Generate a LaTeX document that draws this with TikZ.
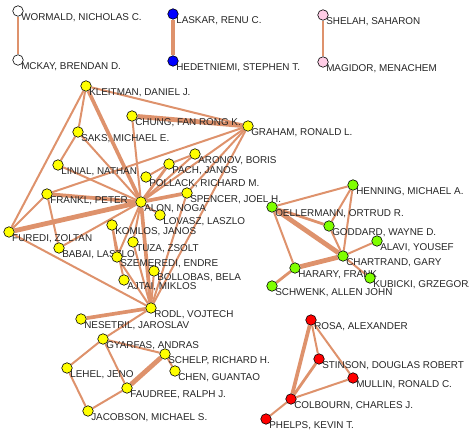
\documentclass[tikz,border=0pt]{standalone}
\usepackage{fontspec}
\setmainfont{Liberation Sans}
\usetikzlibrary{backgrounds}
\definecolor{linkSalmon}{RGB}{222,146,108}
\definecolor{nodeYellow}{RGB}{255,255,0}
\definecolor{nodeGreen}{RGB}{127,255,0}
\definecolor{nodeRed}{RGB}{255,0,0}
\definecolor{nodeBlue}{RGB}{0,0,255}
\definecolor{nodePink}{RGB}{255,205,230}
\tikzset{
    person/.style={circle, draw=black, line width=0.6pt, minimum size=10.5pt, inner sep=0pt},
    lab/.style={inner sep=0pt, xshift=-2.5pt, yshift=-7pt, font=\fontsize{9.9}{10}\selectfont, text=black!85},
    link/.style={draw=linkSalmon, line width=2pt},
    mid link/.style={draw=linkSalmon, line width=2.8pt},
    heavy link/.style={draw=linkSalmon, line width=3.7pt},
    heavier link/.style={draw=linkSalmon, line width=4.8pt}
}
% one author: name, x, y, colour, label
\newcommand{\pers}[5]{\node[person, fill=#4, label={[lab]right:{#5}}] (#1) at (#2,#3) {};}

\begin{document}
\begin{tikzpicture}[x=1pt, y=-1pt]
    \useasboundingbox (0,0) rectangle (469,430);

    % the three pairs on top
    \pers{wormald}{18}{11}{white}{WORMALD, NICHOLAS C.}
    \pers{mckay}{18}{60}{white}{MCKAY, BRENDAN D.}
    \pers{laskar}{173}{14}{nodeBlue}{LASKAR, RENU C.}
    \pers{hedetniemi}{173}{61}{nodeBlue}{HEDETNIEMI, STEPHEN T.}
    \pers{shelah}{323}{15}{nodePink}{SHELAH, SAHARON}
    \pers{magidor}{323}{62}{nodePink}{MAGIDOR, MENACHEM}

    % the big yellow group
    \pers{kleitman}{86}{86}{nodeYellow}{KLEITMAN, DANIEL J.}
    \pers{chung}{132}{116}{nodeYellow}{CHUNG, FAN RONG K.}
    \pers{saks}{78}{132}{nodeYellow}{SAKS, MICHAEL E.}
    \pers{graham}{248}{126}{nodeYellow}{GRAHAM, RONALD L.}
    \pers{linial}{58}{165}{nodeYellow}{LINIAL, NATHAN}
    \pers{aronov}{195}{154}{nodeYellow}{ARONOV, BORIS}
    \pers{pach}{169}{164}{nodeYellow}{PACH, JANOS}
    \pers{pollack}{146}{177}{nodeYellow}{POLLACK, RICHARD M.}
    \pers{spencer}{187}{193}{nodeYellow}{SPENCER, JOEL H.}
    \pers{frankl}{47}{194}{nodeYellow}{FRANKL, PETER}
    \pers{alon}{141}{202}{nodeYellow}{ALON, NOGA}
    \pers{lovasz}{160}{215}{nodeYellow}{LOVASZ, LASZLO}
    \pers{furedi}{9}{232}{nodeYellow}{FUREDI, ZOLTAN}
    \pers{komlos}{112}{225}{nodeYellow}{KOMLOS, JANOS}
    \pers{tuza}{133}{242}{nodeYellow}{TUZA, ZSOLT}
    \pers{babai}{59}{248}{nodeYellow}{BABAI, LASZLO}
    \pers{szemeredi}{117}{257}{nodeYellow}{SZEMEREDI, ENDRE}
    \pers{bollobas}{154}{271}{nodeYellow}{BOLLOBAS, BELA}
    \pers{ajtai}{124}{280}{nodeYellow}{AJTAI, MIKLOS}
    \pers{rodl}{151}{308}{nodeYellow}{RODL, VOJTECH}
    \pers{nesetril}{81}{319}{nodeYellow}{NESETRIL, JAROSLAV}
    \pers{gyarfas}{103}{339}{nodeYellow}{GYARFAS, ANDRAS}
    \pers{schelp}{165}{354}{nodeYellow}{SCHELP, RICHARD H.}
    \pers{chen}{175}{371}{nodeYellow}{CHEN, GUANTAO}
    \pers{lehel}{67}{368}{nodeYellow}{LEHEL, JENO}
    \pers{faudree}{127}{388}{nodeYellow}{FAUDREE, RALPH J.}
    \pers{jacobson}{88}{411}{nodeYellow}{JACOBSON, MICHAEL S.}

    % green group
    \pers{henning}{353}{185}{nodeGreen}{HENNING, MICHAEL A.}
    \pers{oellermann}{272}{207}{nodeGreen}{OELLERMANN, ORTRUD R.}
    \pers{goddard}{329}{226}{nodeGreen}{GODDARD, WAYNE D.}
    \pers{alavi}{377}{241}{nodeGreen}{ALAVI, YOUSEF}
    \pers{chartrand}{343}{256}{nodeGreen}{CHARTRAND, GARY}
    \pers{harary}{295}{268}{nodeGreen}{HARARY, FRANK}
    \pers{kubicki}{370}{278}{nodeGreen}{KUBICKI, GRZEGORZ}
    \pers{schwenk}{272}{286}{nodeGreen}{SCHWENK, ALLEN JOHN}

    % red group
    \pers{rosa}{311}{320}{nodeRed}{ROSA, ALEXANDER}
    \pers{stinson}{319}{359}{nodeRed}{STINSON, DOUGLAS ROBERT}
    \pers{mullin}{353}{378}{nodeRed}{MULLIN, RONALD C.}
    \pers{colbourn}{291}{399}{nodeRed}{COLBOURN, CHARLES J.}
    \pers{phelps}{266}{419}{nodeRed}{PHELPS, KEVIN T.}

    % the links, behind the nodes
    \begin{scope}[on background layer]
        \draw[link] (wormald) -- (mckay);
        \draw[heavy link] (laskar) -- (hedetniemi);
        \draw[mid link] (shelah) -- (magidor);

        \draw[link] (kleitman) -- (graham);
        \draw[link] (kleitman) -- (saks);
        \draw[heavy link] (kleitman) -- (alon);
        \draw[link] (kleitman) -- (furedi);
        \draw[heavier link] (chung) -- (graham);
        \draw[link] (chung) -- (alon);
        \draw[link] (saks) -- (linial);
        \draw[link] (saks) -- (alon);
        \draw[link] (linial) -- (alon);
        \draw[link] (graham) -- (frankl);
        \draw[link] (graham) -- (alon);
        \draw[link] (graham) -- (spencer);
        \draw[link] (graham) -- (rodl);
        \draw[link] (aronov) -- (pach);
        \draw[link] (pach) -- (pollack);
        \draw[link] (alon) -- (aronov);
        \draw[mid link] (alon) -- (pach);
        \draw[heavy link] (alon) -- (spencer);
        \draw[link] (alon) -- (lovasz);
        \draw[heavy link] (alon) -- (frankl);
        \draw[heavier link] (alon) -- (furedi);
        \draw[link] (alon) -- (babai);
        \draw[link] (alon) -- (szemeredi);
        \draw[heavy link] (alon) -- (rodl);
        \draw[link] (alon) -- (tuza);
        \draw[link] (frankl) -- (furedi);
        \draw[link] (frankl) -- (babai);
        \draw[link] (furedi) -- (rodl);
        \draw[link] (komlos) -- (szemeredi);
        \draw[link] (komlos) -- (ajtai);
        \draw[link] (szemeredi) -- (rodl);
        \draw[link] (tuza) -- (rodl);
        \draw[link] (bollobas) -- (rodl);
        \draw[link] (spencer) -- (rodl);
        \draw[heavy link] (rodl) -- (nesetril);
        \draw[link] (rodl) -- (gyarfas);

        \draw[link] (gyarfas) -- (schelp);
        \draw[link] (gyarfas) -- (lehel);
        \draw[link] (gyarfas) -- (faudree);
        \draw[heavier link] (schelp) -- (faudree);
        \draw[link] (schelp) -- (chen);
        \draw[link] (lehel) -- (jacobson);
        \draw[link] (faudree) -- (jacobson);

        \draw[link] (oellermann) -- (henning);
        \draw[mid link] (oellermann) -- (goddard);
        \draw[heavier link] (oellermann) -- (chartrand);
        \draw[link] (oellermann) -- (harary);
        \draw[link] (henning) -- (goddard);
        \draw[link] (henning) -- (chartrand);
        \draw[link] (goddard) -- (chartrand);
        \draw[link] (chartrand) -- (alavi);
        \draw[heavier link] (chartrand) -- (harary);
        \draw[link] (chartrand) -- (kubicki);
        \draw[mid link] (harary) -- (schwenk);

        \draw[heavy link] (rosa) -- (colbourn);
        \draw[link] (rosa) -- (stinson);
        \draw[link] (rosa) -- (mullin);
        \draw[mid link] (stinson) -- (colbourn);
        \draw[link] (mullin) -- (colbourn);
        \draw[link] (colbourn) -- (phelps);
    \end{scope}
\end{tikzpicture}
\end{document}
